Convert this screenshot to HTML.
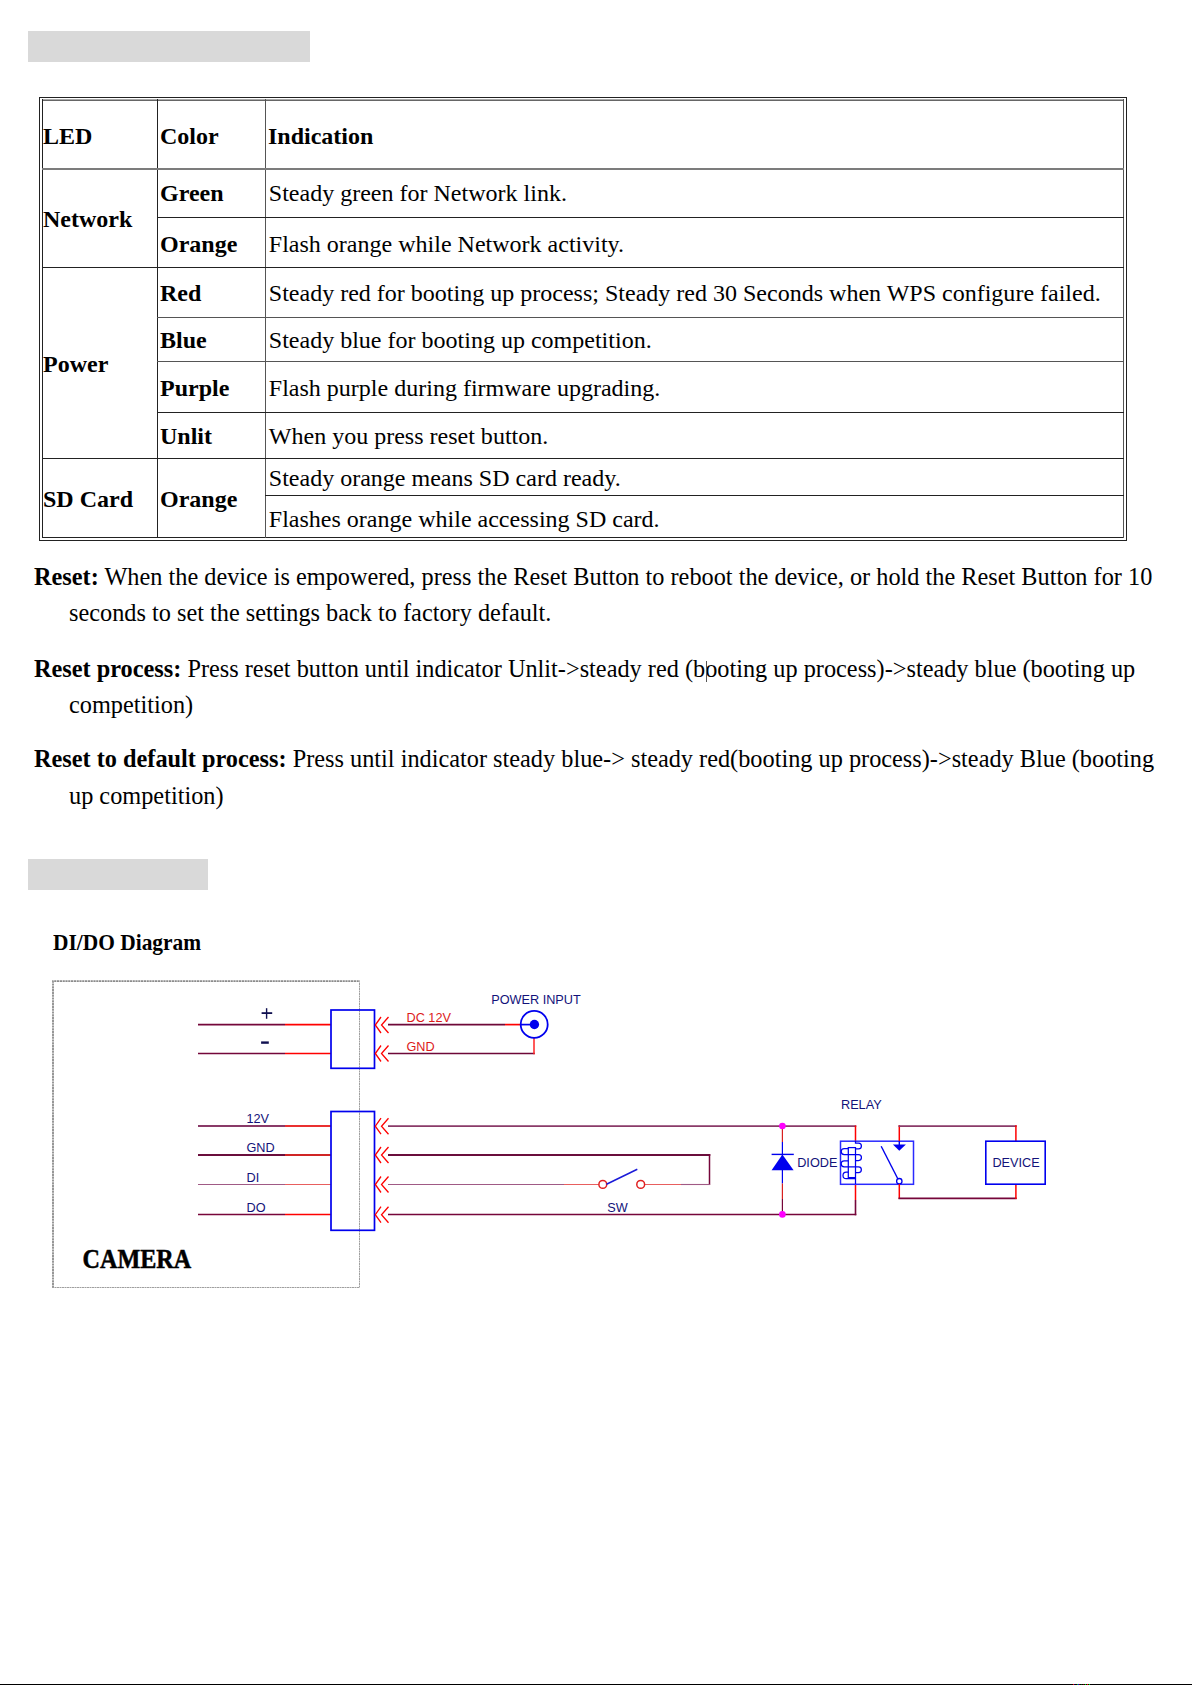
<!DOCTYPE html>
<html><head><meta charset="utf-8"><title>LED / DI-DO</title>
<style>
html,body{margin:0;padding:0;background:#fff;}
body{width:1192px;height:1685px;position:relative;overflow:hidden;}
.t{position:absolute;white-space:pre;line-height:1;}
.r{position:absolute;}
.d{position:absolute;left:0;top:0;}
</style></head><body>
<div class="r" style="left:28px;top:31px;width:282px;height:31px;background:#d9d9d9"></div>
<div class="r" style="left:28px;top:859px;width:180px;height:31px;background:#d9d9d9"></div>
<div class="r" style="left:39px;top:97px;width:1088px;height:1px;background:#222"></div>
<div class="r" style="left:39px;top:540px;width:1088px;height:1px;background:#222"></div>
<div class="r" style="left:39px;top:97px;width:1px;height:444px;background:#222"></div>
<div class="r" style="left:1126px;top:97px;width:1px;height:444px;background:#222"></div>
<div class="r" style="left:42px;top:99px;width:1082px;height:1px;background:#aaa"></div>
<div class="r" style="left:42px;top:100px;width:1082px;height:1px;background:#666"></div>
<div class="r" style="left:42px;top:537px;width:1082px;height:1px;background:#222"></div>
<div class="r" style="left:42px;top:99px;width:1px;height:439px;background:#222"></div>
<div class="r" style="left:1123px;top:99px;width:1px;height:439px;background:#555"></div>
<div class="r" style="left:157px;top:99px;width:1px;height:439px;background:#222"></div>
<div class="r" style="left:265px;top:99px;width:1px;height:439px;background:#555"></div>
<div class="r" style="left:42px;top:168px;width:1082px;height:2px;background:#7c7c7c"></div>
<div class="r" style="left:157px;top:217px;width:967px;height:1px;background:#222"></div>
<div class="r" style="left:42px;top:267px;width:1082px;height:1px;background:#222"></div>
<div class="r" style="left:157px;top:317px;width:967px;height:1px;background:#555"></div>
<div class="r" style="left:157px;top:361px;width:967px;height:1px;background:#555"></div>
<div class="r" style="left:157px;top:412px;width:967px;height:1px;background:#222"></div>
<div class="r" style="left:42px;top:458px;width:1082px;height:1px;background:#222"></div>
<div class="r" style="left:265px;top:495px;width:859px;height:1px;background:#222"></div>
<div class="t" style="left:43px;top:124px;font-size:24px;font-weight:bold;font-family:'Liberation Serif', serif;color:#000;">LED</div>
<div class="t" style="left:160px;top:124px;font-size:24px;font-weight:bold;font-family:'Liberation Serif', serif;color:#000;">Color</div>
<div class="t" style="left:268px;top:124px;font-size:24px;font-weight:bold;font-family:'Liberation Serif', serif;color:#000;">Indication</div>
<div class="t" style="left:160px;top:181px;font-size:24px;font-weight:bold;font-family:'Liberation Serif', serif;color:#000;">Green</div>
<div class="t" style="left:268.8px;top:181px;font-size:24.03px;font-family:'Liberation Serif', serif;color:#000;">Steady green for Network link.</div>
<div class="t" style="left:43px;top:207px;font-size:24px;font-weight:bold;font-family:'Liberation Serif', serif;color:#000;">Network</div>
<div class="t" style="left:160px;top:232px;font-size:24px;font-weight:bold;font-family:'Liberation Serif', serif;color:#000;">Orange</div>
<div class="t" style="left:268.8px;top:232px;font-size:24.03px;font-family:'Liberation Serif', serif;color:#000;">Flash orange while Network activity.</div>
<div class="t" style="left:160px;top:281px;font-size:24px;font-weight:bold;font-family:'Liberation Serif', serif;color:#000;">Red</div>
<div class="t" style="left:268.8px;top:281px;font-size:24.03px;font-family:'Liberation Serif', serif;color:#000;">Steady red for booting up process; Steady red 30 Seconds when WPS configure failed.</div>
<div class="t" style="left:160px;top:328px;font-size:24px;font-weight:bold;font-family:'Liberation Serif', serif;color:#000;">Blue</div>
<div class="t" style="left:268.8px;top:328px;font-size:24.03px;font-family:'Liberation Serif', serif;color:#000;">Steady blue for booting up competition.</div>
<div class="t" style="left:43px;top:352px;font-size:24px;font-weight:bold;font-family:'Liberation Serif', serif;color:#000;">Power</div>
<div class="t" style="left:160px;top:376px;font-size:24px;font-weight:bold;font-family:'Liberation Serif', serif;color:#000;">Purple</div>
<div class="t" style="left:268.8px;top:376px;font-size:24.03px;font-family:'Liberation Serif', serif;color:#000;">Flash purple during firmware upgrading.</div>
<div class="t" style="left:160px;top:424px;font-size:24px;font-weight:bold;font-family:'Liberation Serif', serif;color:#000;">Unlit</div>
<div class="t" style="left:268.8px;top:424px;font-size:24.03px;font-family:'Liberation Serif', serif;color:#000;">When you press reset button.</div>
<div class="t" style="left:43px;top:487px;font-size:24px;font-weight:bold;font-family:'Liberation Serif', serif;color:#000;">SD Card</div>
<div class="t" style="left:160px;top:487px;font-size:24px;font-weight:bold;font-family:'Liberation Serif', serif;color:#000;">Orange</div>
<div class="t" style="left:268.8px;top:466px;font-size:24.03px;font-family:'Liberation Serif', serif;color:#000;">Steady orange means SD card ready.</div>
<div class="t" style="left:268.8px;top:507px;font-size:24.03px;font-family:'Liberation Serif', serif;color:#000;">Flashes orange while accessing SD card.</div>
<div class="t" style="left:34px;top:565px;font-size:24.3px;font-family:'Liberation Serif', serif;color:#000;"><b>Reset:</b> When the device is empowered, press the Reset Button to reboot the device, or hold the Reset Button for 10</div>
<div class="t" style="left:69px;top:601px;font-size:24.3px;font-family:'Liberation Serif', serif;color:#000;">seconds to set the settings back to factory default.</div>
<div class="t" style="left:34px;top:657px;font-size:24.3px;font-family:'Liberation Serif', serif;color:#000;"><b>Reset process:</b> Press reset button until indicator Unlit-&gt;steady red (booting up process)-&gt;steady blue (booting up</div>
<div class="t" style="left:69px;top:693px;font-size:24.3px;font-family:'Liberation Serif', serif;color:#000;">competition)</div>
<div class="t" style="left:34px;top:747px;font-size:24.3px;font-family:'Liberation Serif', serif;color:#000;"><b>Reset to default process:</b> Press until indicator steady blue-&gt; steady red(booting up process)-&gt;steady Blue (booting</div>
<div class="t" style="left:69px;top:784px;font-size:24.3px;font-family:'Liberation Serif', serif;color:#000;">up competition)</div>
<div class="r" style="left:706px;top:661px;width:1px;height:21px;background:#555"></div>
<div class="t" style="left:53px;top:931px;font-size:23px;font-weight:bold;font-family:'Liberation Serif', serif;color:#000;transform:scaleX(0.931);transform-origin:0 0;">DI/DO Diagram</div>
<div class="r" style="left:0px;top:1684px;width:1192px;height:1px;background:#000"></div>
<div class="r" style="left:1073px;top:1684px;width:1px;height:1px;background:#e00"></div>
<div class="r" style="left:1074px;top:1684px;width:1px;height:1px;background:#00005a"></div>
<div class="r" style="left:1077px;top:1684px;width:1px;height:1px;background:#0a0"></div>
<div class="r" style="left:1078px;top:1684px;width:1px;height:1px;background:#00e"></div>
<div class="r" style="left:1079px;top:1684px;width:1px;height:1px;background:#600"></div>
<div class="r" style="left:1081px;top:1684px;width:1px;height:1px;background:#040"></div>
<div class="r" style="left:1083px;top:1684px;width:1px;height:1px;background:#600"></div>
<div class="r" style="left:1085px;top:1684px;width:1px;height:1px;background:#0c0"></div>
<div class="r" style="left:1087px;top:1684px;width:1px;height:1px;background:#f00"></div>
<div class="r" style="left:1089px;top:1684px;width:1px;height:1px;background:#0d0"></div>
<svg class="d" width="1192" height="1685" viewBox="0 0 1192 1685"><path d="M53,1288 V981.2 H360" fill="none" stroke="#8c8c8c" stroke-width="1.8" stroke-dasharray="2.2 0.6"/><path d="M52,1287.5 H359.5 V982" fill="none" stroke="#a0a0a0" stroke-width="1" stroke-dasharray="2 0.5"/><line x1="198" y1="1024.6" x2="285" y2="1024.6" stroke="#74073a" stroke-width="1.7"/><line x1="285" y1="1024.6" x2="331" y2="1024.6" stroke="#f00" stroke-width="1.7"/><line x1="198" y1="1053.5" x2="285" y2="1053.5" stroke="#74073a" stroke-width="1.7"/><line x1="285" y1="1053.5" x2="331" y2="1053.5" stroke="#f00" stroke-width="1.7"/><line x1="198" y1="1126.1" x2="285" y2="1126.1" stroke="#8a3a68" stroke-width="2"/><line x1="285" y1="1126.1" x2="331" y2="1126.1" stroke="#ea3030" stroke-width="2"/><line x1="198" y1="1155" x2="285" y2="1155" stroke="#6a0e3c" stroke-width="2"/><line x1="285" y1="1155" x2="331" y2="1155" stroke="#d02525" stroke-width="2"/><line x1="198" y1="1184.5" x2="285" y2="1184.5" stroke="#a05a85" stroke-width="1"/><line x1="285" y1="1184.5" x2="331" y2="1184.5" stroke="#e85e5e" stroke-width="1"/><line x1="198" y1="1214.5" x2="285" y2="1214.5" stroke="#78063a" stroke-width="1.7"/><line x1="285" y1="1214.5" x2="331" y2="1214.5" stroke="#f00" stroke-width="1.7"/><rect x="331" y="1010" width="43.5" height="58.3" fill="none" stroke="#0000ee" stroke-width="1.7"/><rect x="331" y="1111.5" width="43.5" height="118.8" fill="none" stroke="#0000ee" stroke-width="1.7"/><line x1="261.6" y1="1013.1" x2="272.2" y2="1013.1" stroke="#101050" stroke-width="1.8"/><line x1="266.6" y1="1008.2" x2="266.6" y2="1018.8" stroke="#101050" stroke-width="1.4"/><line x1="261.1" y1="1042.6" x2="268.8" y2="1042.6" stroke="#101050" stroke-width="2.4"/><text x="246.5" y="1123.2" fill="#12127a" font-family="Liberation Sans" font-size="12.7">12V</text><text x="246.5" y="1151.7" fill="#12127a" font-family="Liberation Sans" font-size="12.7">GND</text><text x="246.5" y="1181.7" fill="#12127a" font-family="Liberation Sans" font-size="12.7">DI</text><text x="246.5" y="1211.6" fill="#12127a" font-family="Liberation Sans" font-size="12.7">DO</text><path d="M381,1017 L375.3,1025 L381,1033 M388.5,1017 L381.5,1025 L388.5,1033" fill="none" stroke="#f00" stroke-width="1.3"/><path d="M381,1045.5 L375.3,1053.5 L381,1061.5 M388.5,1045.5 L381.5,1053.5 L388.5,1061.5" fill="none" stroke="#f00" stroke-width="1.3"/><path d="M381,1118.2 L375.3,1126.2 L381,1134.2 M388.5,1118.2 L381.5,1126.2 L388.5,1134.2" fill="none" stroke="#f00" stroke-width="1.3"/><path d="M381,1147 L375.3,1155 L381,1163 M388.5,1147 L381.5,1155 L388.5,1163" fill="none" stroke="#f00" stroke-width="1.3"/><path d="M381,1176.5 L375.3,1184.5 L381,1192.5 M388.5,1176.5 L381.5,1184.5 L388.5,1192.5" fill="none" stroke="#f00" stroke-width="1.3"/><path d="M381,1206.7 L375.3,1214.7 L381,1222.7 M388.5,1206.7 L381.5,1214.7 L388.5,1222.7" fill="none" stroke="#f00" stroke-width="1.3"/><line x1="388" y1="1024.6" x2="505" y2="1024.6" stroke="#6e0838" stroke-width="1.7"/><line x1="505" y1="1024.6" x2="520" y2="1024.6" stroke="#f00" stroke-width="1.7"/><line x1="520" y1="1024.6" x2="534" y2="1024.6" stroke="#0000ee" stroke-width="1.7"/><line x1="388" y1="1053.5" x2="534.8" y2="1053.5" stroke="#6e0838" stroke-width="1.7"/><line x1="534" y1="1054.3" x2="534" y2="1038" stroke="#f22" stroke-width="1.5"/><circle cx="534.2" cy="1024.4" r="13.5" fill="none" stroke="#0000ee" stroke-width="1.8"/><circle cx="534.4" cy="1024.5" r="4.7" fill="#0000ee"/><text x="406.5" y="1021.7" fill="#dc1a1a" font-family="Liberation Sans" font-size="12.7">DC 12V</text><text x="406.5" y="1050.6" fill="#dc1a1a" font-family="Liberation Sans" font-size="12.7">GND</text><text x="491.2" y="1003.7" fill="#12127a" font-family="Liberation Sans" font-size="12.7">POWER INPUT</text><line x1="388" y1="1126.1" x2="856.3" y2="1126.1" stroke="#8a3a68" stroke-width="1.8"/><line x1="388" y1="1155" x2="710.3" y2="1155" stroke="#6a0e3c" stroke-width="1.8"/><line x1="709.5" y1="1154" x2="709.5" y2="1185" stroke="#76063a" stroke-width="1.5"/><line x1="710" y1="1184.5" x2="681" y2="1184.5" stroke="#a05a85" stroke-width="1.1"/><line x1="681" y1="1184.5" x2="644.5" y2="1184.5" stroke="#e85e5e" stroke-width="1.1"/><line x1="388" y1="1184.5" x2="564" y2="1184.5" stroke="#a05a85" stroke-width="1.1"/><line x1="564" y1="1184.5" x2="599" y2="1184.5" stroke="#e85e5e" stroke-width="1.1"/><circle cx="602.8" cy="1184.4" r="3.9" fill="#fff" stroke="#e02020" stroke-width="1.5"/><circle cx="640.7" cy="1184.4" r="3.9" fill="#fff" stroke="#e02020" stroke-width="1.5"/><line x1="606.5" y1="1184.2" x2="637.3" y2="1169.3" stroke="#1a1ad8" stroke-width="1.5"/><text x="607.3" y="1212.2" fill="#12127a" font-family="Liberation Sans" font-size="12.7">SW</text><line x1="388" y1="1214.5" x2="856.3" y2="1214.5" stroke="#76063a" stroke-width="1.7"/><line x1="782.4" y1="1126" x2="782.4" y2="1142" stroke="#d82020" stroke-width="1.2"/><line x1="782.4" y1="1142" x2="782.4" y2="1183.5" stroke="#0000ee" stroke-width="1.2"/><line x1="782.4" y1="1183.5" x2="782.4" y2="1199" stroke="#d82020" stroke-width="1.2"/><line x1="782.4" y1="1199" x2="782.4" y2="1214.6" stroke="#76063a" stroke-width="1.2"/><line x1="771.6" y1="1154.4" x2="793.8" y2="1154.4" stroke="#0000ee" stroke-width="1.4"/><path d="M782.4,1154.5 L793.6,1170.3 L771.6,1170.3 Z" fill="#0000ee"/><circle cx="782.4" cy="1126" r="3.3" fill="#ff00ff"/><circle cx="782.4" cy="1214.4" r="3.3" fill="#ff00ff"/><text x="797.2" y="1167" fill="#12127a" font-family="Liberation Sans" font-size="12.7">DIODE</text><line x1="855.5" y1="1125.5" x2="855.5" y2="1141" stroke="#f00" stroke-width="1.5"/><line x1="855.5" y1="1184" x2="855.5" y2="1200" stroke="#f00" stroke-width="1.5"/><line x1="855.5" y1="1200" x2="855.5" y2="1215.3" stroke="#76063a" stroke-width="1.6"/><rect x="840.5" y="1141.2" width="73" height="43.1" fill="none" stroke="#2a2aff" stroke-width="1.5"/><rect x="848.3" y="1147.6" width="7.2" height="30" fill="none" stroke="#0000ee" stroke-width="1.25"/><path d="M855.5,1141 V1143 h3 a2.9,2.9 0 0 1 0,5.8 H855.5 M848.3,1148.6 H844.2 a3,3 0 0 0 0,6 H858.5 a2.95,2.95 0 0 1 0,5.9 H855.5 M848.3,1160.8 H844.2 a3.05,3.05 0 0 0 0,6.1 H858.5 a2.85,2.85 0 0 1 0,5.7 H855.5 M848.3,1172.2 H846.2 a3.2,3.2 0 0 0 0,6.4 H855.5 V1184" fill="none" stroke="#0000ee" stroke-width="1.25"/><line x1="899.3" y1="1125.2" x2="899.3" y2="1141" stroke="#f00" stroke-width="1.5"/><line x1="899.3" y1="1141" x2="899.3" y2="1145" stroke="#0000ee" stroke-width="1.4"/><path d="M892.9,1144.6 L905.9,1144.6 L899.3,1150.8 Z" fill="#0000ee"/><line x1="881.2" y1="1146.3" x2="897.8" y2="1178.8" stroke="#0000ee" stroke-width="1.4"/><circle cx="899.3" cy="1181.2" r="2.7" fill="#fff" stroke="#0000ee" stroke-width="1.3"/><line x1="899.3" y1="1184" x2="899.3" y2="1199" stroke="#f00" stroke-width="1.5"/><line x1="898.5" y1="1198.4" x2="1016.7" y2="1198.4" stroke="#76063a" stroke-width="1.6"/><line x1="1015.9" y1="1184" x2="1015.9" y2="1199" stroke="#f00" stroke-width="1.5"/><line x1="898.5" y1="1126.1" x2="1016.7" y2="1126.1" stroke="#8a3a68" stroke-width="1.8"/><line x1="1015.9" y1="1125.2" x2="1015.9" y2="1141" stroke="#f00" stroke-width="1.5"/><rect x="985.8" y="1141.2" width="59.4" height="43" fill="none" stroke="#0000ee" stroke-width="1.6"/><text x="992.4" y="1167" fill="#12127a" font-family="Liberation Sans" font-size="12.7">DEVICE</text><text x="841" y="1108.8" fill="#12127a" font-family="Liberation Sans" font-size="12.7">RELAY</text><text x="82.6" y="1268.3" fill="#000" stroke="#000" stroke-width="0.5" font-family="Liberation Serif" font-weight="bold" font-size="26.4" transform="translate(82.6,0) scale(0.915,1) translate(-82.6,0)">CAMERA</text></svg>
</body></html>
